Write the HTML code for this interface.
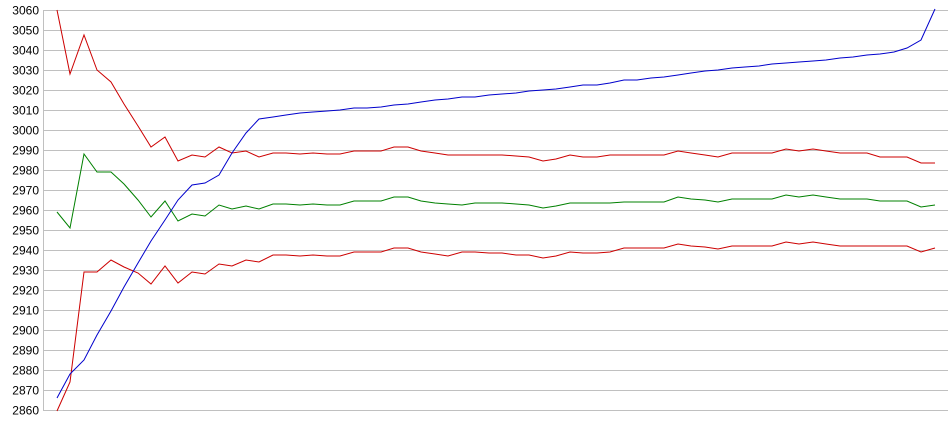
<!DOCTYPE html>
<html><head><meta charset="utf-8"><style>
html,body{margin:0;padding:0;background:#fff;}
svg{display:block;}
text{font-family:"Liberation Sans",Arial,sans-serif;font-size:12px;fill:#000;}
</style></head><body>
<svg width="950" height="435" viewBox="0 0 950 435" xmlns="http://www.w3.org/2000/svg">
<g stroke="#c0c0c0" stroke-width="1" shape-rendering="crispEdges">
<line x1="43" y1="10.5" x2="948" y2="10.5"/>
<line x1="43" y1="30.5" x2="948" y2="30.5"/>
<line x1="43" y1="50.5" x2="948" y2="50.5"/>
<line x1="43" y1="70.5" x2="948" y2="70.5"/>
<line x1="43" y1="90.5" x2="948" y2="90.5"/>
<line x1="43" y1="110.5" x2="948" y2="110.5"/>
<line x1="43" y1="130.5" x2="948" y2="130.5"/>
<line x1="43" y1="150.5" x2="948" y2="150.5"/>
<line x1="43" y1="170.5" x2="948" y2="170.5"/>
<line x1="43" y1="190.5" x2="948" y2="190.5"/>
<line x1="43" y1="210.5" x2="948" y2="210.5"/>
<line x1="43" y1="230.5" x2="948" y2="230.5"/>
<line x1="43" y1="250.5" x2="948" y2="250.5"/>
<line x1="43" y1="270.5" x2="948" y2="270.5"/>
<line x1="43" y1="290.5" x2="948" y2="290.5"/>
<line x1="43" y1="310.5" x2="948" y2="310.5"/>
<line x1="43" y1="330.5" x2="948" y2="330.5"/>
<line x1="43" y1="350.5" x2="948" y2="350.5"/>
<line x1="43" y1="370.5" x2="948" y2="370.5"/>
<line x1="43" y1="390.5" x2="948" y2="390.5"/>
<line x1="43" y1="410.5" x2="948" y2="410.5"/>
<line x1="43.5" y1="10" x2="43.5" y2="411"/>
</g>
<g text-anchor="end">
<text x="39" y="14.5">3060</text><text x="39" y="34.5">3050</text><text x="39" y="54.5">3040</text><text x="39" y="74.5">3030</text><text x="39" y="94.5">3020</text><text x="39" y="114.5">3010</text><text x="39" y="134.5">3000</text><text x="39" y="154.5">2990</text><text x="39" y="174.5">2980</text><text x="39" y="194.5">2970</text><text x="39" y="214.5">2960</text><text x="39" y="234.5">2950</text><text x="39" y="254.5">2940</text><text x="39" y="274.5">2930</text><text x="39" y="294.5">2920</text><text x="39" y="314.5">2910</text><text x="39" y="334.5">2900</text><text x="39" y="354.5">2890</text><text x="39" y="374.5">2880</text><text x="39" y="394.5">2870</text><text x="39" y="414.5">2860</text>
</g>
<g fill="none" stroke-width="1">
<polyline stroke="#cc0000" points="57,10 70,74 84,35 97,70 111,82 124,104 138,126 151,147 165,137 178,161 192,155 205,157 219,147 232,153 246,151 259,157 273,153 286,153 300,154 313,153 327,154 340,154 354,151 367,151 381,151 394,147 408,147 421,151 435,153 448,155 462,155 475,155 489,155 502,155 516,156 529,157 543,161 556,159 570,155 583,157 597,157 610,155 624,155 637,155 651,155 664,155 678,151 691,153 705,155 718,157 732,153 745,153 759,153 772,153 786,149 799,151 813,149 826,151 840,153 853,153 867,153 880,157 894,157 907,157 921,163 935,163"/>
<polyline stroke="#008000" points="57,212 70,228 84,154 97,172 111,172 124,184 138,200 151,217 165,201 178,221 192,214 205,216 219,205 232,209 246,206 259,209 273,204 286,204 300,205 313,204 327,205 340,205 354,201 367,201 381,201 394,197 408,197 421,201 435,203 448,204 462,205 475,203 489,203 502,203 516,204 529,205 543,208 556,206 570,203 583,203 597,203 610,203 624,202 637,202 651,202 664,202 678,197 691,199 705,200 718,202 732,199 745,199 759,199 772,199 786,195 799,197 813,195 826,197 840,199 853,199 867,199 880,201 894,201 907,201 921,207 935,205"/>
<polyline stroke="#cc0000" points="57,411 70,382 84,272 97,272 111,260 124,267 138,273 151,284 165,266 178,283 192,272 205,274 219,264 232,266 246,260 259,262 273,255 286,255 300,256 313,255 327,256 340,256 354,252 367,252 381,252 394,248 408,248 421,252 435,254 448,256 462,252 475,252 489,253 502,253 516,255 529,255 543,258 556,256 570,252 583,253 597,253 610,252 624,248 637,248 651,248 664,248 678,244 691,246 705,247 718,249 732,246 745,246 759,246 772,246 786,242 799,244 813,242 826,244 840,246 853,246 867,246 880,246 894,246 907,246 921,252 935,248"/>
<polyline stroke="#0000cc" points="57,398 70,374 84,360 97,335 111,311 124,287 138,263 151,241 165,220 178,200 192,185 205,183 219,175 232,153 246,133 259,119 273,117 286,115 300,113 313,112 327,111 340,110 354,108 367,108 381,107 394,105 408,104 421,102 435,100 448,99 462,97 475,97 489,95 502,94 516,93 529,91 543,90 556,89 570,87 583,85 597,85 610,83 624,80 637,80 651,78 664,77 678,75 691,73 705,71 718,70 732,68 745,67 759,66 772,64 786,63 799,62 813,61 826,60 840,58 853,57 867,55 880,54 894,52 907,48 921,40 935,9"/>
</g>
</svg>
</body></html>
